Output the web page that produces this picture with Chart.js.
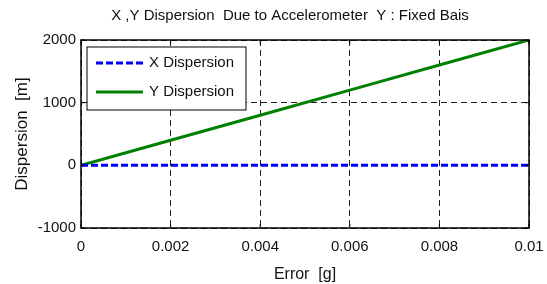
<!DOCTYPE html>
<html>
<head>
<meta charset="utf-8">
<script src="https://cdn.jsdelivr.net/npm/chart.js@4"></script>
<style>
  html, body { margin: 0; padding: 0; background: #fff; }
  #wrap { width: 547px; height: 284px; }
</style>
</head>
<body>
<div id="wrap"><canvas id="chart" width="547" height="284"></canvas></div>
<script>
const errorValues = [0, 0.002, 0.004, 0.006, 0.008, 0.01];
const xDispersion = [0, 0, 0, 0, 0, 0];
const yDispersion = [0, 400, 800, 1200, 1600, 2000];
const xTicks = [0, 0.002, 0.004, 0.006, 0.008, 0.01];
const yTicks = [-1000, 0, 1000, 2000];

const chartTitle = 'X ,Y Dispersion  Due to Accelerometer  Y : Fixed Bais';
const FONT = '"Liberation Sans", Arial, sans-serif';

// frame with inward ticks, title and the boxed legend in the upper left corner
const matlabLook = {
    id: 'matlabLook',
    afterDraw(chart) {
        const ctx = chart.ctx;
        const a = chart.chartArea;
        const sx = chart.scales.x, sy = chart.scales.y;
        ctx.save();
        ctx.setLineDash([]);
        ctx.strokeStyle = '#000';
        ctx.lineWidth = 1.5;
        ctx.strokeRect(a.left, a.top, a.right - a.left, a.bottom - a.top);

        ctx.lineWidth = 1;
        ctx.beginPath();
        xTicks.forEach(v => {
            const px = sx.getPixelForValue(v);
            ctx.moveTo(px, a.bottom); ctx.lineTo(px, a.bottom - 4);
            ctx.moveTo(px, a.top); ctx.lineTo(px, a.top + 4);
        });
        yTicks.forEach(v => {
            const py = sy.getPixelForValue(v);
            ctx.moveTo(a.left, py); ctx.lineTo(a.left + 4, py);
            ctx.moveTo(a.right, py); ctx.lineTo(a.right - 4, py);
        });
        ctx.stroke();

        ctx.fillStyle = '#111';
        ctx.font = '15px ' + FONT;
        ctx.textAlign = 'center';
        ctx.textBaseline = 'middle';
        ctx.fillText(chartTitle, 290, 16);

        const lx = a.left + 6, ly = a.top + 7, lw = 159, lh = 63;
        ctx.fillStyle = '#fff';
        ctx.fillRect(lx, ly, lw, lh);
        ctx.strokeStyle = '#000';
        ctx.strokeRect(lx, ly, lw, lh);
        chart.data.datasets.forEach((ds, i) => {
            const y = ly + 16 + i * 29;
            ctx.strokeStyle = ds.borderColor;
            ctx.lineWidth = ds.borderWidth;
            ctx.setLineDash(ds.borderDash || []);
            ctx.beginPath();
            ctx.moveTo(lx + 9, y);
            ctx.lineTo(lx + 56, y);
            ctx.stroke();
            ctx.setLineDash([]);
            ctx.fillStyle = '#111';
            ctx.textAlign = 'left';
            ctx.fillText(ds.label, lx + 62, y);
        });
        ctx.restore();
    }
};

new Chart(document.getElementById('chart'), {
    type: 'line',
    data: {
        datasets: [{
            label: 'X Dispersion',
            data: errorValues.map((e, i) => ({ x: e, y: xDispersion[i] })),
            borderColor: '#0000ff',
            borderWidth: 3,
            borderDash: [7, 3],
            pointRadius: 0
        }, {
            label: 'Y Dispersion',
            data: errorValues.map((e, i) => ({ x: e, y: yDispersion[i] })),
            borderColor: '#008000',
            borderWidth: 3,
            pointRadius: 0
        }]
    },
    options: {
        responsive: false,
        animation: false,
        layout: { padding: { top: 40, right: 18, left: 0, bottom: 0 } },
        plugins: {
            legend: { display: false },
            title: { display: false },
            tooltip: { enabled: false }
        },
        scales: {
            x: {
                type: 'linear',
                min: 0,
                max: 0.01,
                afterBuildTicks: s => { s.ticks = xTicks.map(v => ({ value: v })); },
                afterFit: s => { s.height = 56; s.paddingLeft = 0; s.paddingRight = 0; },
                grid: { color: '#222', lineWidth: 1, drawTicks: false },
                border: { display: false, dash: [6, 4] },
                ticks: {
                    color: '#111',
                    padding: 10,
                    maxRotation: 0,
                    font: { family: FONT, size: 15 },
                    callback: v => String(v)
                },
                title: {
                    display: true,
                    text: 'Error  [g]',
                    color: '#111',
                    font: { family: FONT, size: 16 },
                    padding: { top: 1, bottom: 0 }
                }
            },
            y: {
                min: -1000,
                max: 2000,
                afterBuildTicks: s => { s.ticks = yTicks.map(v => ({ value: v })); },
                afterFit: s => { s.width = 81; s.paddingTop = 0; s.paddingBottom = 0; },
                grid: { color: '#222', lineWidth: 1, drawTicks: false },
                border: { display: false, dash: [6, 4] },
                ticks: {
                    color: '#111',
                    padding: 5,
                    font: { family: FONT, size: 15 },
                    callback: v => String(v)
                },
                title: {
                    display: true,
                    text: 'Dispersion  [m]',
                    color: '#111',
                    font: { family: FONT, size: 17 },
                    padding: { top: 12, bottom: 0 }
                }
            }
        }
    },
    plugins: [matlabLook]
});
</script>
</body>
</html>
